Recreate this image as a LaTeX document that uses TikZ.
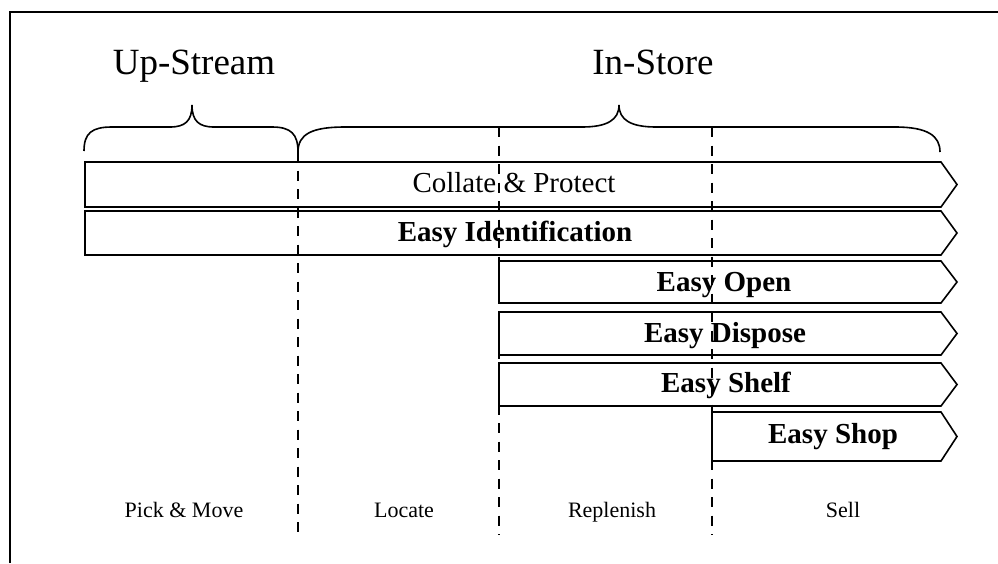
\documentclass[tikz,border=0pt]{standalone}
\usepackage{fontspec}
\setmainfont{Liberation Serif}
\begin{document}
\begin{tikzpicture}[x=1pt,y=-1pt,
  frame/.style={line width=1.6pt},
  band/.style={draw, line width=1.6pt, line join=miter},
  divider/.style={line width=1.5pt, dash pattern=on 10pt off 8.5pt},
  brace/.style={line width=1.6pt},
  head/.style={font=\fontsize{37}{44}\selectfont, anchor=base, inner sep=0pt},
  lbl/.style={font=\fontsize{29}{34}\selectfont, anchor=base, inner sep=0pt},
  blbl/.style={font=\bfseries\fontsize{29}{34}\selectfont, anchor=base, inner sep=0pt},
  phase/.style={font=\fontsize{22}{26}\selectfont, anchor=base, inner sep=0pt}]
\useasboundingbox (0,0) rectangle (998,563);
% frame (cropped on right and bottom)
\draw[frame] (10,563) -- (10,12) -- (998,12);
% braces
\draw[brace] (84,151) .. controls (84,133) and (92,127) .. (112,127) -- (170,127)
  .. controls (185,127) and (192,121) .. (192,105)
  .. controls (192,121) and (199,127) .. (214,127) -- (272,127)
  .. controls (291,127) and (298,134) .. (298,152);
\draw[brace] (298,152) .. controls (298,134) and (312,127) .. (345,127) -- (582,127)
  .. controls (607,127) and (619,120) .. (619,105)
  .. controls (619,120) and (631,127) .. (656,127) -- (895,127)
  .. controls (928,127) and (940,136) .. (940,152);
% bands
\draw[band] (85,162) -- (941,162) -- (957,184.5) -- (941,207) -- (85,207) -- cycle;
\draw[band] (85,211) -- (941,211) -- (957,233) -- (941,255) -- (85,255) -- cycle;
\draw[band] (499,261) -- (941,261) -- (957,282) -- (941,303) -- (499,303) -- cycle;
\draw[band] (499,312) -- (941,312) -- (957,333.5) -- (941,355) -- (499,355) -- cycle;
\draw[band] (499,363) -- (941,363) -- (957,384.5) -- (941,406) -- (499,406) -- cycle;
\draw[band] (712,412) -- (941,412) -- (957,436.5) -- (941,461) -- (712,461) -- cycle;
% dividers
\coordinate (d1t) at (298,152); \coordinate (d1b) at (298,535);
\coordinate (d2t) at (499,127); \coordinate (d2b) at (499,535);
\coordinate (d3t) at (712,127); \coordinate (d3b) at (712,535);
\draw[divider] (d1t) -- (d1b);
\draw[divider] (d2t) -- (d2b);
\draw[divider] (d3t) -- (d3b);
% headings
\node[head] (up) at (194,74) {Up-Stream};
\node[head] (in) at (653,74) {In-Store};
% band labels
\node[lbl] (cp) at (514,192) {Collate \& Protect};
\node[blbl] (ei) at (515,241) {Easy Identification};
\node[blbl] (eo) at (724,291) {Easy Open};
\node[blbl] (ed) at (725,342) {Easy Dispose};
\node[blbl] (es) at (726,392) {Easy Shelf};
\node[blbl] (eh) at (833,443) {Easy Shop};
% phases
\node[phase] (pm) at (184,517) {Pick \& Move};
\node[phase] (lo) at (404,517) {Locate};
\node[phase] (re) at (612,517) {Replenish};
\node[phase] (se) at (843,517) {Sell};
\end{tikzpicture}
\end{document}
